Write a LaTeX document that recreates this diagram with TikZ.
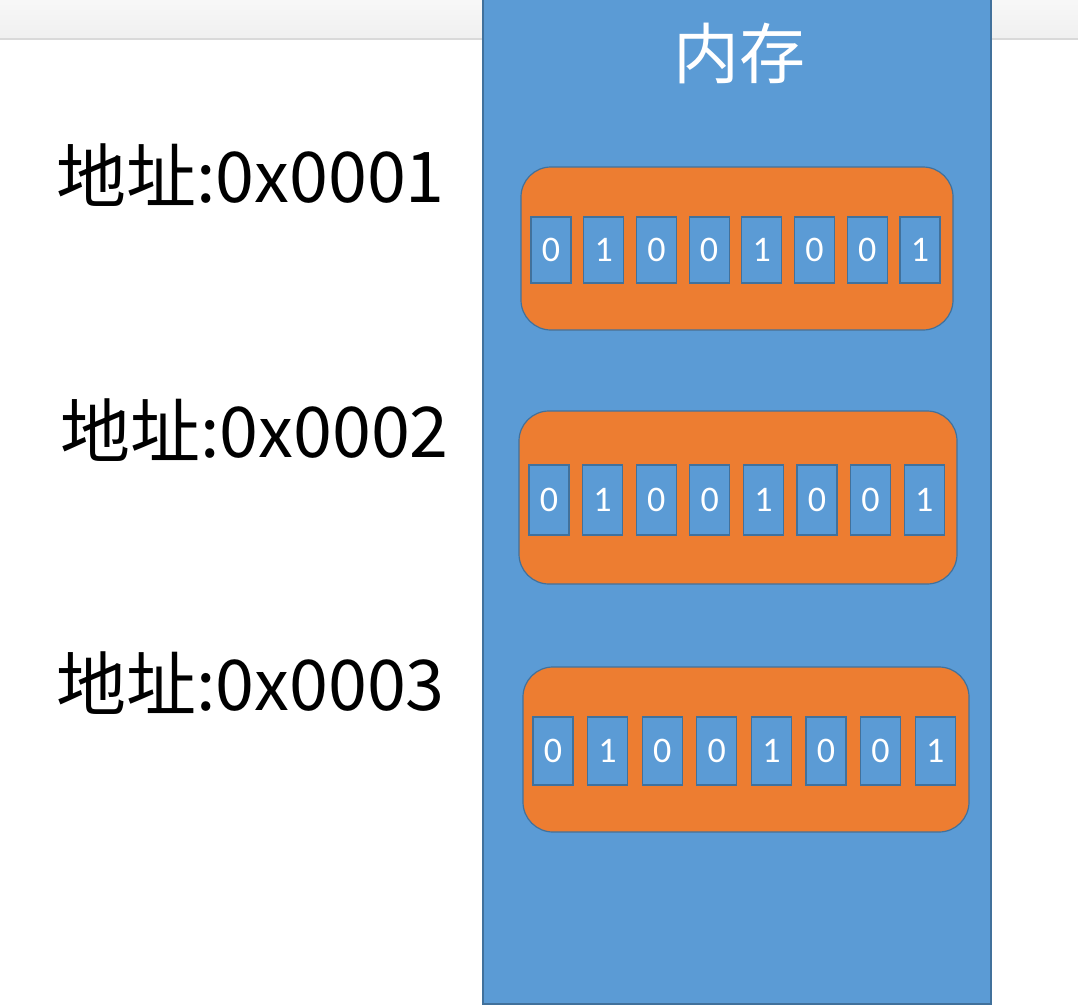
\documentclass[tikz,border=0pt]{standalone}
\usepackage{fontspec}
\usepackage{tikz}
\usetikzlibrary{positioning,calc}
\newfontfamily\cjk{Noto Sans CJK SC}
\newfontfamily\bitfont{Carlito}
\definecolor{membg}{HTML}{5B9BD5}
\definecolor{memline}{HTML}{41719C}
\definecolor{wordbg}{HTML}{ED7D31}
\definecolor{barline}{HTML}{D9D9D9}

\begin{document}
\begin{tikzpicture}[x=1pt, y=-1pt,
        membox/.style={draw=memline, fill=membg, line width=1.5pt},
        wordbox/.style={rectangle, rounded corners=30pt, draw=memline,
          fill=wordbg, line width=1.2pt, inner sep=0pt},
        bitcell/.style={rectangle, draw=memline, fill=membg, line
          width=1.2pt, minimum width=40pt, inner sep=0pt, text=white,
          font=\bitfont\fontsize{36}{36}\selectfont},
        addrlabel/.style={anchor=west, inner sep=0pt,
          font=\cjk\fontsize{70}{70}\selectfont},
      ]
      \useasboundingbox (0,0) rectangle (1078,1006);

      % window bar at the top
      \fill[top color=white!97!black, bottom color=white!94!black]
      (0,0) rectangle (1078,38);
      \draw[barline, line width=2pt] (0,39) -- (1078,39);

      % memory column
      \draw[membox] (483,-3) rectangle (991,1004);
      \node[text=white, font=\cjk\fontsize{66}{66}\selectfont] (title)
      at (739,53) {内存};

      % one word per row: name/y1/y2/x1/x2/cell top/cell bottom/first x/pitch
      \foreach \w/\ya/\yb/\xa/\xb/\ca/\cb/\cx/\cp in {
          1/167/330/521/953/217/283/551/52.7,
          2/411/584/519/957/465/535/549/53.6,
          3/667/832/523/969/717/785/553/54.6}{
        \node[wordbox, minimum width=\xb-\xa, minimum height=\yb-\ya]
        (word\w) at ({(\xa+\xb)/2},{(\ya+\yb)/2}) {};
        \foreach \b [count=\i from 0] in {0,1,0,0,1,0,0,1}{
          \node[bitcell, minimum height=\cb-\ca] (bit\w-\i)
          at ({\cx+\i*\cp},{(\ca+\cb)/2}) {\b};
        }
      }

      % addresses
      \node[addrlabel] (addr1) at (56,175) {地址:0x0001};
      \node[addrlabel] (addr2) at (60,430) {地址:0x0002};
      \node[addrlabel] (addr3) at (56,683) {地址:0x0003};
    \end{tikzpicture}
\end{document}
